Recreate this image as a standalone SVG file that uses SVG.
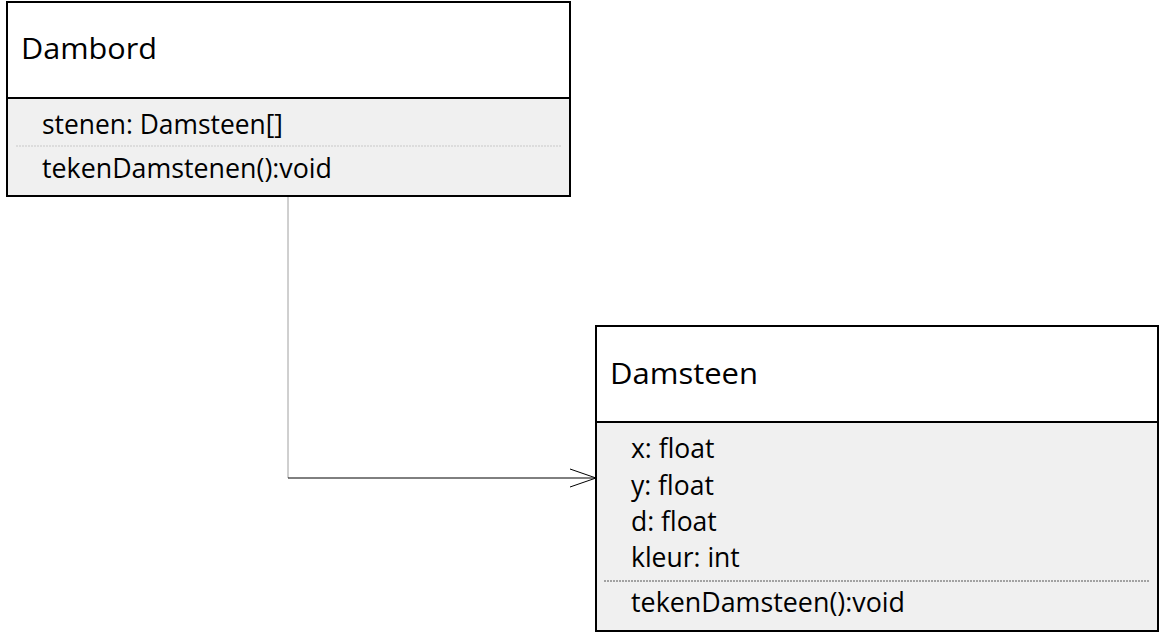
<svg xmlns="http://www.w3.org/2000/svg" width="1160" height="637" viewBox="0 0 1160 637">
<style>
.box{fill:#ffffff;stroke:#000;stroke-width:2}
.comp{fill:#f0f0f0;stroke:#000;stroke-width:2}
.sep{stroke:#c8c8c8;stroke-width:1;stroke-dasharray:2 1}
.sep2{stroke:#555;stroke-width:1;stroke-dasharray:2 1}
.t{font-family:"Open Sans","Liberation Sans",sans-serif;fill:#000}
.h{font-size:30px}
.m{font-size:26.5px}
</style>
<rect width="1160" height="637" fill="#fff"/>
<g id="connectors">
<line x1="288" y1="197" x2="288" y2="478" stroke="#a0a0a0" stroke-width="1"/>
<line x1="288" y1="478" x2="596" y2="478" stroke="#000" stroke-width="1"/>
<polyline points="570,469 596,478 570,487" fill="none" stroke="#000" stroke-width="1"/>
</g>
<g id="Dambord">
<rect class="box" x="7" y="2" width="563" height="96"/>
<rect class="comp" x="7" y="98" width="563" height="98"/>
<line class="sep" x1="16" y1="146" x2="562" y2="146"/>
<text class="t h" x="21" y="59" textLength="136" lengthAdjust="spacingAndGlyphs">Dambord</text>
<text class="t m" x="42" y="134" textLength="241" lengthAdjust="spacingAndGlyphs">stenen: Damsteen[]</text>
<text class="t m" x="42" y="178" textLength="290" lengthAdjust="spacingAndGlyphs">tekenDamstenen():void</text>
</g>
<g id="Damsteen">
<rect class="box" x="596" y="326" width="562" height="96"/>
<rect class="comp" x="596" y="422" width="562" height="209"/>
<line class="sep2" x1="604" y1="581" x2="1150" y2="581"/>
<text class="t h" x="610" y="384" textLength="148" lengthAdjust="spacingAndGlyphs">Damsteen</text>
<text class="t m" x="631" y="458">x: float</text>
<text class="t m" x="631" y="495">y: float</text>
<text class="t m" x="631" y="531">d: float</text>
<text class="t m" x="631" y="567">kleur: int</text>
<text class="t m" x="631" y="612" textLength="274" lengthAdjust="spacingAndGlyphs">tekenDamsteen():void</text>
</g>
</svg>
